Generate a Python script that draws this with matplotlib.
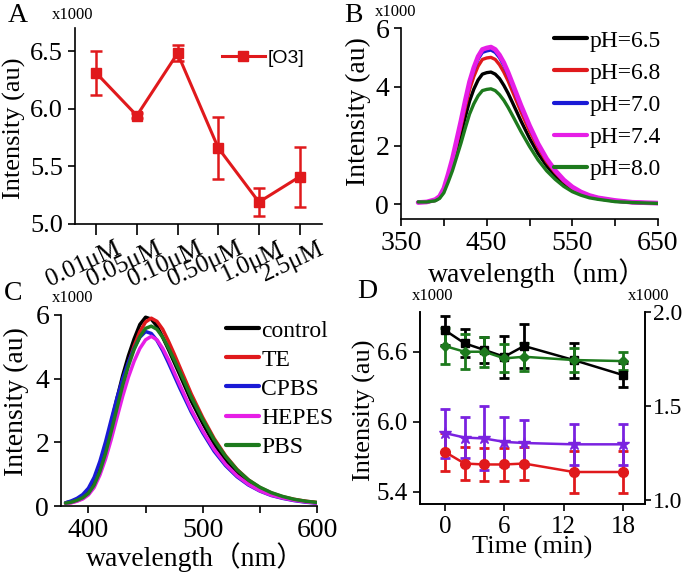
import matplotlib
matplotlib.use('Agg')
import matplotlib.pyplot as plt
import matplotlib.transforms as mtransforms
from matplotlib.lines import Line2D

plt.rcParams['font.family'] = ['Liberation Serif', 'Noto Sans CJK SC', 'DejaVu Sans']
plt.rcParams['axes.linewidth'] = 1.2

W, H = 685, 573

# ---------------- Panel A data ----------------
conc_labels = ['0.01μM', '0.05μM', '0.10μM', '0.50μM', '1.0μM', '2.5μM']
o3_mean = [6.31, 5.94, 6.48, 5.66, 5.19, 5.41]
o3_err = [0.19, 0.02, 0.07, 0.27, 0.12, 0.26]

# ---------------- Panel B data ----------------
wl_b = [370, 380, 390, 395, 400, 405, 410, 415, 420, 425, 430, 435, 440, 445, 450,
        455, 460, 465, 470, 475, 480, 490, 500, 510, 520, 530, 540, 550, 560, 570,
        580, 600, 620, 650]
ph_labels = ['pH=6.5', 'pH=6.8', 'pH=7.0', 'pH=7.4', 'pH=8.0']
ph65 = [0.07, 0.08, 0.13, 0.22, 0.45, 0.86, 1.31, 1.85, 2.39, 2.97, 3.51, 3.92, 4.23, 4.43, 4.48,
        4.50, 4.43, 4.28, 4.05, 3.78, 3.47, 2.84, 2.25, 1.73, 1.31, 0.97, 0.70, 0.50, 0.35, 0.26,
        0.19, 0.11, 0.06, 0.04]
ph68 = [0.07, 0.08, 0.14, 0.25, 0.50, 0.95, 1.45, 2.05, 2.65, 3.30, 3.90, 4.35, 4.70, 4.93, 4.98,
        5.00, 4.93, 4.75, 4.50, 4.20, 3.85, 3.15, 2.50, 1.93, 1.45, 1.08, 0.78, 0.55, 0.39, 0.29,
        0.21, 0.12, 0.07, 0.04]
ph70 = [0.07, 0.08, 0.15, 0.26, 0.53, 1.00, 1.52, 2.15, 2.78, 3.47, 4.10, 4.57, 4.94, 5.17, 5.22,
        5.25, 5.17, 4.99, 4.73, 4.41, 4.04, 3.31, 2.63, 2.02, 1.52, 1.13, 0.81, 0.58, 0.41, 0.30,
        0.22, 0.13, 0.07, 0.04]
ph74 = [0.06, 0.08, 0.16, 0.27, 0.54, 1.02, 1.55, 2.19, 2.84, 3.53, 4.17, 4.65, 5.03, 5.27, 5.32,
        5.35, 5.27, 5.08, 4.82, 4.49, 4.12, 3.37, 2.68, 2.06, 1.55, 1.15, 0.83, 0.59, 0.42, 0.30,
        0.22, 0.13, 0.07, 0.04]
ph80 = [0.08, 0.08, 0.12, 0.20, 0.39, 0.75, 1.14, 1.61, 2.08, 2.59, 3.07, 3.42, 3.69, 3.87, 3.91,
        3.93, 3.87, 3.73, 3.54, 3.30, 3.03, 2.48, 1.97, 1.51, 1.14, 0.85, 0.61, 0.43, 0.31, 0.22,
        0.17, 0.09, 0.06, 0.03]

# ---------------- Panel C data ----------------
wl_c = [380, 385, 390, 395, 400, 405, 410, 415, 420, 425, 430, 435, 440, 445, 450, 455, 460,
        465, 470, 475, 480, 490, 500, 510, 520, 530, 540, 550, 560, 570, 580, 590, 600]
buf_labels = ['control', 'TE', 'CPBS', 'HEPES', 'PBS']
control = [0.10, 0.14, 0.20, 0.30, 0.47, 0.78, 1.25, 1.88, 2.62, 3.38, 4.10, 4.72, 5.25, 5.70,
           5.93, 5.87, 5.65, 5.30, 4.92, 4.52, 4.12, 3.30, 2.60, 1.95, 1.45, 1.05, 0.75, 0.53,
           0.37, 0.26, 0.19, 0.14, 0.10]
te = [0.08, 0.11, 0.16, 0.24, 0.38, 0.64, 1.05, 1.62, 2.32, 3.08, 3.82, 4.48, 5.03, 5.48,
      5.78, 5.90, 5.80, 5.55, 5.18, 4.78, 4.36, 3.52, 2.78, 2.12, 1.58, 1.15, 0.82, 0.58,
      0.41, 0.29, 0.21, 0.15, 0.11]
cpbs = [0.10, 0.16, 0.24, 0.36, 0.56, 0.90, 1.40, 2.02, 2.72, 3.40, 4.00, 4.52, 4.95, 5.30,
        5.48, 5.42, 5.20, 4.88, 4.50, 4.10, 3.70, 2.95, 2.30, 1.72, 1.27, 0.92, 0.66, 0.47,
        0.33, 0.24, 0.17, 0.12, 0.09]
hepes = [0.08, 0.10, 0.15, 0.22, 0.35, 0.58, 0.97, 1.48, 2.10, 2.78, 3.45, 4.05, 4.55, 4.95,
         5.22, 5.33, 5.22, 4.95, 4.60, 4.20, 3.80, 3.02, 2.36, 1.78, 1.31, 0.95, 0.68, 0.48,
         0.34, 0.25, 0.18, 0.13, 0.09]
pbs = [0.09, 0.12, 0.18, 0.26, 0.40, 0.66, 1.08, 1.66, 2.35, 3.08, 3.80, 4.40, 4.92, 5.32,
       5.58, 5.65, 5.55, 5.30, 4.97, 4.60, 4.22, 3.42, 2.72, 2.08, 1.56, 1.14, 0.82, 0.59,
       0.42, 0.30, 0.21, 0.15, 0.11]

# ---------------- Panel D data ----------------
time_min = [0, 2, 4, 6, 8, 13, 18]
black_mean = [6.785, 6.672, 6.615, 6.557, 6.649, 6.529, 6.40]
black_err = [0.125, 0.12, 0.11, 0.18, 0.19, 0.15, 0.10]
green_mean = [6.649, 6.60, 6.60, 6.543, 6.557, 6.529, 6.52]
green_err = [0.15, 0.15, 0.13, 0.12, 0.12, 0.10, 0.08]
red_mean = [1.257, 1.195, 1.19, 1.19, 1.195, 1.15, 1.15]
red_err = [0.10, 0.09, 0.09, 0.09, 0.09, 0.11, 0.11]
purple_mean = [1.357, 1.333, 1.328, 1.31, 1.304, 1.297, 1.297]
purple_err = [0.13, 0.11, 0.17, 0.13, 0.12, 0.11, 0.11]

RED = '#e0191c'
BLACK = '#000000'
BLUE = '#1a1ad6'
MAGENTA = '#e61ee6'
GREEN = '#1d7a1d'
PURPLE = '#7a22e0'

fig = plt.figure(figsize=(W / 100, H / 100), dpi=100)


def rect(l, t, r, b):
    return [l / W, 1 - b / H, (r - l) / W, (b - t) / H]


def fpos(x, y):
    return (x / W, 1 - y / H)


def style(ax, right=False):
    ax.spines['top'].set_visible(False)
    if not right:
        ax.spines['right'].set_visible(False)
    ax.tick_params(direction='out', length=5, width=1.2)


# ---------------- Panel A ----------------
axA = fig.add_axes(rect(75, 28, 322, 224))
style(axA)
xA = list(range(len(conc_labels)))
axA.errorbar(xA, o3_mean, yerr=o3_err, color=RED, lw=2.2, marker='s', ms=7,
             elinewidth=1.8, capsize=4, capthick=1.8)
axA.set_xlim(-0.52, 5.55)
axA.set_ylim(5.0, 6.7)
axA.set_yticks([5.0, 5.5, 6.0, 6.5])
axA.set_yticklabels(['5.0', '5.5', '6.0', '6.5'], fontsize=19)
axA.set_xticks(xA)
axA.tick_params(axis='x', length=8, pad=2)
axA.set_xticklabels(conc_labels, fontsize=18, rotation=25, ha='right', va='top',
                    rotation_mode='anchor')
off = mtransforms.ScaledTranslation(19 / 100, 0, fig.dpi_scale_trans)
for lab in axA.get_xticklabels():
    lab.set_transform(lab.get_transform() + off)
axA.set_ylabel('Intensity (au)', fontsize=19)
axA.yaxis.set_label_coords(26 / W, 1 - 128 / H, transform=fig.transFigure)
handleA = Line2D([], [], color=RED, lw=2.2, marker='s', ms=7)
axA.legend([handleA], ['[O3]'], loc='center left', bbox_to_anchor=fpos(222, 58),
           bbox_transform=fig.transFigure, frameon=False, handlelength=2.2,
           handletextpad=0.15, borderpad=0, borderaxespad=0,
           prop={'family': 'Liberation Sans', 'size': 14})

# ---------------- Panel B ----------------
axB = fig.add_axes(rect(401, 28, 658, 219))
style(axB)
for ys, c, lab, lw in [(ph65, BLACK, ph_labels[0], 2.4), (ph68, RED, ph_labels[1], 2.4),
                       (ph70, BLUE, ph_labels[2], 2.4), (ph74, MAGENTA, ph_labels[3], 3.4),
                       (ph80, GREEN, ph_labels[4], 2.4)]:
    axB.plot(wl_b, ys, color=c, lw=lw, label=lab, solid_capstyle='round')
axB.set_xlim(350, 650)
axB.set_ylim(-0.5, 6)
axB.set_xticks([350, 400, 450, 500, 550, 600, 650])
axB.set_xticklabels(['350', '', '450', '', '550', '', '650'], fontsize=20)
axB.set_yticks([0, 2, 4, 6])
axB.set_yticklabels(['0', '2', '4', '6'], fontsize=20)
axB.set_xlabel('wavelength（nm）', fontsize=20)
axB.xaxis.set_label_coords(537 / W, 1 - 258 / H, transform=fig.transFigure)
axB.set_ylabel('Intensity (au)', fontsize=20)
axB.yaxis.set_label_coords(371 / W, 1 - 112 / H, transform=fig.transFigure)
legB = axB.legend(loc='upper left', bbox_to_anchor=fpos(554, 30), bbox_transform=fig.transFigure,
                  frameon=False, handlelength=1.4, handletextpad=0.1, borderpad=0,
                  borderaxespad=0, labelspacing=0.45, fontsize=17)
for ln in legB.get_lines():
    ln.set_linewidth(3)

# ---------------- Panel C ----------------
axC = fig.add_axes(rect(61, 315, 317, 506))
style(axC)
for ys, c, lab in [(control, BLACK, buf_labels[0]), (te, RED, buf_labels[1]),
                   (cpbs, BLUE, buf_labels[2]), (hepes, MAGENTA, buf_labels[3]),
                   (pbs, GREEN, buf_labels[4])]:
    axC.plot(wl_c, ys, color=c, lw=2.5, label=lab, solid_capstyle='round')
axC.set_xlim(376, 600)
axC.set_ylim(0, 6)
axC.set_xticks([400, 450, 500, 550, 600])
axC.set_xticklabels(['400', '', '500', '', '600'], fontsize=20)
axC.set_yticks([0, 2, 4, 6])
axC.set_yticklabels(['0', '2', '4', '6'], fontsize=20)
axC.set_xlabel('wavelength（nm）', fontsize=20)
axC.xaxis.set_label_coords(195 / W, 1 - 542 / H, transform=fig.transFigure)
axC.set_ylabel('Intensity (au)', fontsize=20)
axC.yaxis.set_label_coords(29 / W, 1 - 402 / H, transform=fig.transFigure)
legC = axC.legend(loc='upper left', bbox_to_anchor=fpos(226, 320), bbox_transform=fig.transFigure,
                  frameon=False, handlelength=1.4, handletextpad=0.1, borderpad=0,
                  borderaxespad=0, labelspacing=0.32, fontsize=17)
for ln in legC.get_lines():
    ln.set_linewidth(3)

# ---------------- Panel D ----------------
axD = fig.add_axes(rect(420, 312, 645, 504))
style(axD, right=True)
axD.errorbar(time_min, black_mean, yerr=black_err, color=BLACK, lw=1.8, marker='s', ms=6,
             elinewidth=2, capsize=3.5, capthick=2)
axD.errorbar(time_min, green_mean, yerr=green_err, color=GREEN, lw=1.8, marker='D', ms=5,
             elinewidth=2, capsize=3.5, capthick=2)
axD.set_xlim(-2.5, 20.2)
axD.set_ylim(5.297, 6.94)
axD.set_xticks([0, 6, 12, 18])
axD.set_xticklabels(['0', '6', '12', '18'], fontsize=18)
axD.set_yticks([5.4, 6.0, 6.6])
axD.set_yticklabels(['5.4', '6.0', '6.6'], fontsize=18)
axD.set_xlabel('Time (min)', fontsize=19)
axD.xaxis.set_label_coords(532 / W, 1 - 536 / H, transform=fig.transFigure)
axD.set_ylabel('Intensity (au)', fontsize=19)
axD.yaxis.set_label_coords(376 / W, 1 - 410 / H, transform=fig.transFigure)

axD2 = axD.twinx()
axD2.spines['top'].set_visible(False)
axD2.tick_params(direction='out', length=4, width=1.2, pad=1.5)
axD2.errorbar(time_min, red_mean, yerr=red_err, color=RED, lw=1.8, marker='o', ms=7,
              elinewidth=2, capsize=3.5, capthick=2)
axD2.errorbar(time_min, purple_mean, yerr=purple_err, color=PURPLE, lw=1.8, marker='*', ms=9,
              elinewidth=2, capsize=3.5, capthick=2)
axD2.set_ylim(0.98, 2.0)
axD2.set_yticks([1.0, 1.5, 2.0])
axD2.set_yticklabels(['1.0', '1.5', '2.0'], fontsize=17)

# ---------------- Panel letters & multipliers ----------------
for txt, x, y in [('A', 8, 16), ('B', 344, 16), ('C', 4, 293), ('D', 357, 292)]:
    fig.text(*fpos(x, y), txt, fontsize=20, ha='left', va='center')
for x, y in [(52, 15), (375, 12), (52, 298), (412, 296), (628, 296)]:
    fig.text(*fpos(x, y), 'x1000', fontsize=12, ha='left', va='center')

fig.savefig('out.png', dpi=100)
